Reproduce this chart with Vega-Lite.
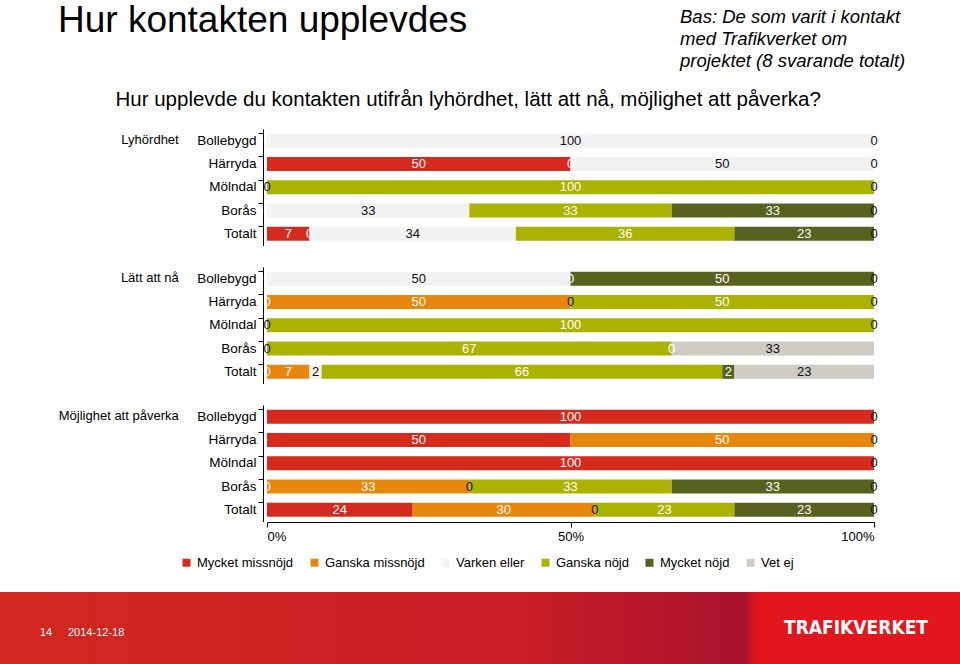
{
  "$schema": "https://vega.github.io/schema/vega-lite/v6.json",
  "background": "white",
  "padding": {"left": 0, "right": 0, "top": 2, "bottom": 0},
  "config": {
    "font": "Liberation Sans",
    "view": {"stroke": null},
    "axis": {"labelFont": "Liberation Sans", "labelColor": "#000", "labelFontSize": 13},
    "legend": {"labelFont": "Liberation Sans", "labelColor": "#000"},
    "header": {"labelFont": "Liberation Sans", "labelColor": "#000"}
  },
  "title": {
    "text": "Hur kontakten upplevdes",
    "anchor": "start",
    "dx": 58,
    "fontSize": 37,
    "fontWeight": "normal",
    "font": "Liberation Sans",
    "color": "#000",
    "offset": -32
  },
  "spacing": 22,
  "resolve": {"legend": {"color": "independent"}},
  "vconcat": [
    {
      "title": {
        "text": ["Bas: De som varit i kontakt", "med Trafikverket om", "projektet (8 svarande totalt)"],
        "anchor": "start",
        "align": "left",
        "dx": 680,
        "fontSize": 18.5,
        "lineHeight": 22,
        "fontStyle": "italic",
        "fontWeight": "normal",
        "font": "Liberation Sans",
        "color": "#000",
        "offset": 19
      },
      "spacing": 20,
      "resolve": {"legend": {"color": "independent"}},
      "hconcat": [
        {
          "width": 38,
          "height": 10,
          "data": {"values": []},
          "mark": "point",
          "encoding": {}
        },
        {
          "title": {
            "text": "Hur upplevde du kontakten utifrån lyhördhet, lätt att nå, möjlighet att påverka?",
            "anchor": "middle",
            "fontSize": 20.5,
            "fontWeight": "normal",
            "font": "Liberation Sans",
            "color": "#000",
            "offset": 19
          },
          "data": {
            "values": [
              {"g": "Lyhördhet", "k": "Bollebygd", "c": "Mycket missnöjd", "o": 1, "v": 0},
              {"g": "Lyhördhet", "k": "Bollebygd", "c": "Varken eller", "o": 3, "v": 100},
              {"g": "Lyhördhet", "k": "Bollebygd", "c": "Vet ej", "o": 6, "v": 0},
              {"g": "Lyhördhet", "k": "Härryda", "c": "Mycket missnöjd", "o": 1, "v": 50},
              {"g": "Lyhördhet", "k": "Härryda", "c": "Ganska missnöjd", "o": 2, "v": 0},
              {"g": "Lyhördhet", "k": "Härryda", "c": "Varken eller", "o": 3, "v": 50},
              {"g": "Lyhördhet", "k": "Härryda", "c": "Vet ej", "o": 6, "v": 0},
              {"g": "Lyhördhet", "k": "Mölndal", "c": "Varken eller", "o": 3, "v": 0},
              {"g": "Lyhördhet", "k": "Mölndal", "c": "Ganska nöjd", "o": 4, "v": 100},
              {"g": "Lyhördhet", "k": "Mölndal", "c": "Vet ej", "o": 6, "v": 0},
              {"g": "Lyhördhet", "k": "Borås", "c": "Ganska missnöjd", "o": 2, "v": 0},
              {"g": "Lyhördhet", "k": "Borås", "c": "Varken eller", "o": 3, "v": 33.33},
              {"g": "Lyhördhet", "k": "Borås", "c": "Ganska nöjd", "o": 4, "v": 33.33},
              {"g": "Lyhördhet", "k": "Borås", "c": "Mycket nöjd", "o": 5, "v": 33.33},
              {"g": "Lyhördhet", "k": "Borås", "c": "Vet ej", "o": 6, "v": 0},
              {"g": "Lyhördhet", "k": "Totalt", "c": "Mycket missnöjd", "o": 1, "v": 7},
              {"g": "Lyhördhet", "k": "Totalt", "c": "Ganska missnöjd", "o": 2, "v": 0},
              {"g": "Lyhördhet", "k": "Totalt", "c": "Varken eller", "o": 3, "v": 34},
              {"g": "Lyhördhet", "k": "Totalt", "c": "Ganska nöjd", "o": 4, "v": 36},
              {"g": "Lyhördhet", "k": "Totalt", "c": "Mycket nöjd", "o": 5, "v": 23},
              {"g": "Lyhördhet", "k": "Totalt", "c": "Vet ej", "o": 6, "v": 0},

              {"g": "Lätt att nå", "k": "Bollebygd", "c": "Mycket missnöjd", "o": 1, "v": 0},
              {"g": "Lätt att nå", "k": "Bollebygd", "c": "Varken eller", "o": 3, "v": 50},
              {"g": "Lätt att nå", "k": "Bollebygd", "c": "Ganska nöjd", "o": 4, "v": 0},
              {"g": "Lätt att nå", "k": "Bollebygd", "c": "Mycket nöjd", "o": 5, "v": 50},
              {"g": "Lätt att nå", "k": "Bollebygd", "c": "Vet ej", "o": 6, "v": 0},
              {"g": "Lätt att nå", "k": "Härryda", "c": "Mycket missnöjd", "o": 1, "v": 0},
              {"g": "Lätt att nå", "k": "Härryda", "c": "Ganska missnöjd", "o": 2, "v": 50},
              {"g": "Lätt att nå", "k": "Härryda", "c": "Varken eller", "o": 3, "v": 0},
              {"g": "Lätt att nå", "k": "Härryda", "c": "Ganska nöjd", "o": 4, "v": 50},
              {"g": "Lätt att nå", "k": "Härryda", "c": "Vet ej", "o": 6, "v": 0},
              {"g": "Lätt att nå", "k": "Mölndal", "c": "Varken eller", "o": 3, "v": 0},
              {"g": "Lätt att nå", "k": "Mölndal", "c": "Ganska nöjd", "o": 4, "v": 100},
              {"g": "Lätt att nå", "k": "Mölndal", "c": "Vet ej", "o": 6, "v": 0},
              {"g": "Lätt att nå", "k": "Borås", "c": "Varken eller", "o": 3, "v": 0},
              {"g": "Lätt att nå", "k": "Borås", "c": "Ganska nöjd", "o": 4, "v": 66.67},
              {"g": "Lätt att nå", "k": "Borås", "c": "Mycket nöjd", "o": 5, "v": 0},
              {"g": "Lätt att nå", "k": "Borås", "c": "Vet ej", "o": 6, "v": 33.33},
              {"g": "Lätt att nå", "k": "Totalt", "c": "Mycket missnöjd", "o": 1, "v": 0},
              {"g": "Lätt att nå", "k": "Totalt", "c": "Ganska missnöjd", "o": 2, "v": 7},
              {"g": "Lätt att nå", "k": "Totalt", "c": "Varken eller", "o": 3, "v": 2},
              {"g": "Lätt att nå", "k": "Totalt", "c": "Ganska nöjd", "o": 4, "v": 66},
              {"g": "Lätt att nå", "k": "Totalt", "c": "Mycket nöjd", "o": 5, "v": 2},
              {"g": "Lätt att nå", "k": "Totalt", "c": "Vet ej", "o": 6, "v": 23},

              {"g": "Möjlighet att påverka", "k": "Bollebygd", "c": "Mycket missnöjd", "o": 1, "v": 100},
              {"g": "Möjlighet att påverka", "k": "Bollebygd", "c": "Vet ej", "o": 6, "v": 0},
              {"g": "Möjlighet att påverka", "k": "Härryda", "c": "Mycket missnöjd", "o": 1, "v": 50},
              {"g": "Möjlighet att påverka", "k": "Härryda", "c": "Ganska missnöjd", "o": 2, "v": 50},
              {"g": "Möjlighet att påverka", "k": "Härryda", "c": "Vet ej", "o": 6, "v": 0},
              {"g": "Möjlighet att påverka", "k": "Mölndal", "c": "Mycket missnöjd", "o": 1, "v": 100},
              {"g": "Möjlighet att påverka", "k": "Mölndal", "c": "Vet ej", "o": 6, "v": 0},
              {"g": "Möjlighet att påverka", "k": "Borås", "c": "Mycket missnöjd", "o": 1, "v": 0},
              {"g": "Möjlighet att påverka", "k": "Borås", "c": "Ganska missnöjd", "o": 2, "v": 33.33},
              {"g": "Möjlighet att påverka", "k": "Borås", "c": "Varken eller", "o": 3, "v": 0},
              {"g": "Möjlighet att påverka", "k": "Borås", "c": "Ganska nöjd", "o": 4, "v": 33.33},
              {"g": "Möjlighet att påverka", "k": "Borås", "c": "Mycket nöjd", "o": 5, "v": 33.33},
              {"g": "Möjlighet att påverka", "k": "Borås", "c": "Vet ej", "o": 6, "v": 0},
              {"g": "Möjlighet att påverka", "k": "Totalt", "c": "Mycket missnöjd", "o": 1, "v": 24},
              {"g": "Möjlighet att påverka", "k": "Totalt", "c": "Ganska missnöjd", "o": 2, "v": 30},
              {"g": "Möjlighet att påverka", "k": "Totalt", "c": "Varken eller", "o": 3, "v": 0},
              {"g": "Möjlighet att påverka", "k": "Totalt", "c": "Ganska nöjd", "o": 4, "v": 23},
              {"g": "Möjlighet att påverka", "k": "Totalt", "c": "Mycket nöjd", "o": 5, "v": 23},
              {"g": "Möjlighet att påverka", "k": "Totalt", "c": "Vet ej", "o": 6, "v": 0}
            ]
          },
          "facet": {
            "row": {
              "field": "g",
              "type": "nominal",
              "sort": ["Lyhördhet", "Lätt att nå", "Möjlighet att påverka"],
              "title": null,
              "header": {
                "labelAngle": 0,
                "labelOrient": "left",
                "labelAnchor": "end",
                "labelAlign": "left",
                "labelBaseline": "line-top",
                "labelLineHeight": 23,
                "labelFontSize": 13,
                "labelPadding": 18
              }
            }
          },
          "spacing": {"row": 21},
          "spec": {
            "width": 607,
            "height": 116.5,
            "encoding": {
              "y": {
                "field": "k",
                "type": "nominal",
                "sort": ["Bollebygd", "Härryda", "Mölndal", "Borås", "Totalt"],
                "scale": {"paddingInner": 0.4, "paddingOuter": 0.2},
                "axis": {
                  "title": null,
                  "bandPosition": 0,
                  "domainColor": "#000",
                  "tickColor": "#000",
                  "tickSize": 5,
                  "labelPadding": 2,
                  "labelFontSize": 13.5
                }
              },
              "x": {
                "field": "v",
                "type": "quantitative",
                "stack": "zero",
                "scale": {"domain": [0, 100], "nice": false},
                "axis": {
                  "title": null,
                  "values": [0, 50, 100],
                  "labelExpr": "datum.value + '%'",
                  "grid": false,
                  "domainColor": "#000",
                  "tickColor": "#000",
                  "tickSize": 5,
                  "labelPadding": 3,
                  "labelFontSize": 13
                }
              },
              "order": {"field": "o", "type": "quantitative"}
            },
            "layer": [
              {
                "mark": {"type": "bar"},
                "encoding": {
                  "color": {
                    "field": "c",
                    "type": "nominal",
                    "scale": {
                      "domain": ["Mycket missnöjd", "Ganska missnöjd", "Varken eller", "Ganska nöjd", "Mycket nöjd", "Vet ej"],
                      "range": ["#D52B1E", "#E8870E", "#F2F2F2", "#AAB300", "#58621E", "#CFCBC5"]
                    },
                    "legend": {
                      "title": null,
                      "orient": "none",
                      "legendX": -87,
                      "legendY": 427,
                      "direction": "horizontal",
                      "symbolType": "square",
                      "symbolSize": 64,
                      "symbolStrokeWidth": 0,
                      "labelFontSize": 13,
                      "columnPadding": 14
                    }
                  }
                }
              },
              {
                "mark": {"type": "text", "fontSize": 13, "baseline": "middle", "align": "center"},
                "encoding": {
                  "x": {"field": "v", "type": "quantitative", "stack": "zero", "bandPosition": 0.5},
                  "detail": {"field": "c"},
                  "text": {"field": "v", "type": "quantitative", "format": ".0f"},
                  "color": {
                    "condition": {"test": "datum.c === 'Varken eller' || datum.c === 'Vet ej'", "value": "#111111"},
                    "value": "#ffffff"
                  }
                }
              }
            ]
          }
        }
      ]
    },
    {
      "width": 960,
      "height": 72,
      "data": {"values": [{"sida": "14", "datum": "2014-12-18", "logo": "TRAFIKVERKET"}]},
      "layer": [
        {
          "mark": {
            "type": "rect",
            "color": {
              "gradient": "linear",
              "x1": 0, "x2": 1, "y1": 0, "y2": 0,
              "stops": [
                {"offset": 0, "color": "#D3281F"},
                {"offset": 0.55, "color": "#C81E26"},
                {"offset": 0.775, "color": "#A8122E"},
                {"offset": 0.79, "color": "#E3161E"},
                {"offset": 1, "color": "#E3161E"}
              ]
            }
          },
          "encoding": {}
        },
        {
          "mark": {"type": "text", "align": "left", "baseline": "middle", "color": "white", "fontSize": 11, "dx": 40, "dy": 5},
          "encoding": {"x": {"value": 0}, "text": {"field": "sida"}}
        },
        {
          "mark": {"type": "text", "align": "left", "baseline": "middle", "color": "white", "fontSize": 11, "dx": 68, "dy": 5},
          "encoding": {"x": {"value": 0}, "text": {"field": "datum"}}
        },
        {
          "mark": {"type": "text", "align": "right", "baseline": "middle", "color": "white", "fontSize": 19, "fontWeight": "bold", "font": "Liberation Sans Narrow, DejaVu Sans Condensed, Liberation Sans", "dx": -32, "dy": 0},
          "encoding": {"x": {"value": "width"}, "text": {"field": "logo"}}
        }
      ]
    }
  ]
}
